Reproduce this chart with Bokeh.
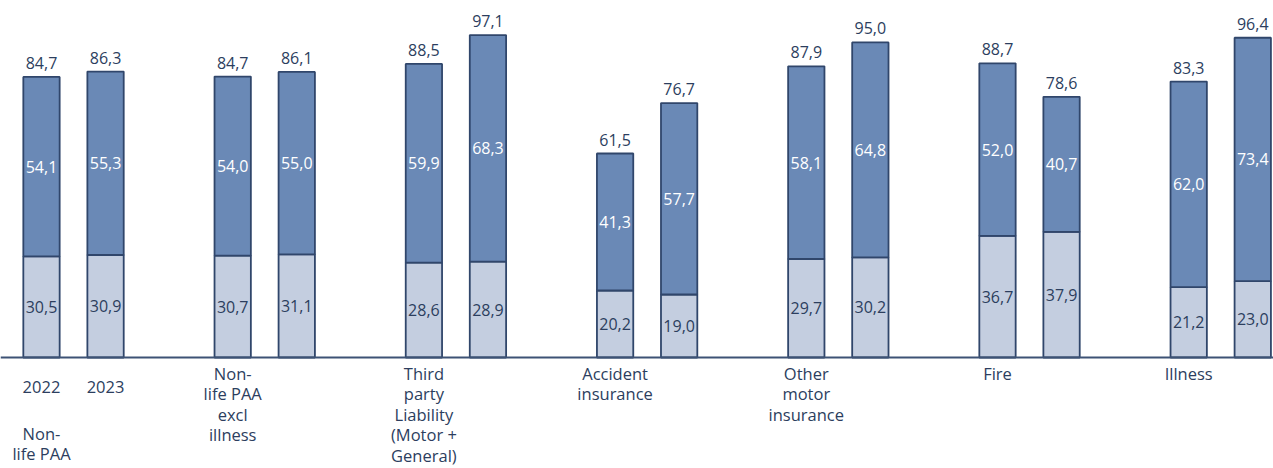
from bokeh.plotting import figure
from bokeh.models import ColumnDataSource, Span, Range1d
from bokeh.embed import file_html
from bokeh.resources import INLINE
from bokeh.core.properties import value

categories = ["Non-\nlife PAA", "Non-\nlife PAA\nexcl\nillness", "Third\nparty\nLiability\n(Motor +\nGeneral)",
              "Accident\ninsurance", "Other\nmotor\ninsurance", "Fire", "Illness"]
years = ["2022", "2023"]
lower_2022 = [30.5, 30.7, 28.6, 20.2, 29.7, 36.7, 21.2]
upper_2022 = [54.1, 54.0, 59.9, 41.3, 58.1, 52.0, 62.0]
total_2022 = [84.7, 84.7, 88.5, 61.5, 87.9, 88.7, 83.3]
lower_2023 = [30.9, 31.1, 28.9, 19.0, 30.2, 37.9, 23.0]
upper_2023 = [55.3, 55.0, 68.3, 57.7, 64.8, 40.7, 73.4]
total_2023 = [86.3, 86.1, 97.1, 76.7, 95.0, 78.6, 96.4]

DARK = "#6a89b6"
LIGHT = "#c4cee0"
EDGE = "#30466b"
TXT = "#2c3e5e"
FONT = value("Open Sans")

def fmt(v):
    return f"{v:.1f}".replace(".", ",")

OFF = 0.335
W = 0.19

xs, lo, up, tot = [], [], [], []
for i in range(len(categories)):
    for j, (l, u, t) in enumerate([(lower_2022[i], upper_2022[i], total_2022[i]),
                                    (lower_2023[i], upper_2023[i], total_2023[i])]):
        xs.append(i + j * OFF)
        lo.append(l)
        up.append(u)
        tot.append(t)

src = ColumnDataSource(dict(
    x=xs, lo=lo, up=up, top=[a + b for a, b in zip(lo, up)], tot=tot,
    lo_mid=[a / 2 for a in lo], up_mid=[a + b / 2 for a, b in zip(lo, up)],
    lo_txt=[fmt(v) for v in lo], up_txt=[fmt(v) for v in up], tot_txt=[fmt(v) for v in tot],
))

p = figure(width=1273, height=468, output_backend="svg", toolbar_location=None,
           x_range=Range1d(-0.2144, 6.4435), y_range=Range1d(-33.46, 107.63),
           min_border=0, outline_line_color=None)
p.axis.visible = False
p.grid.visible = False
p.background_fill_color = "white"
p.border_fill_color = "white"

p.add_layout(Span(location=0, dimension="width", line_color="#3d5275", line_width=2))

p.vbar(x="x", width=W, bottom=0, top="lo", source=src, fill_color=LIGHT, line_color=EDGE, line_width=1.8)
p.vbar(x="x", width=W, bottom="lo", top="top", source=src, fill_color=DARK, line_color=EDGE, line_width=1.8)

p.text(x="x", y="lo_mid", text="lo_txt", source=src, text_align="center", text_baseline="middle",
       text_font=FONT, text_font_size="16px", text_color=TXT)
p.text(x="x", y="up_mid", text="up_txt", source=src, text_align="center", text_baseline="middle",
       text_font=FONT, text_font_size="16px", text_color="white")
p.text(x="x", y="top", text="tot_txt", source=src, text_align="center", text_baseline="bottom",
       y_offset=-8, text_font=FONT, text_font_size="16px", text_color=TXT)

# year labels under the first group
p.text(x=[0, OFF], y=[-8.74, -8.74], text=years, text_align="center", text_baseline="middle",
       text_font=FONT, text_font_size="16.5px", text_color=TXT)

# category labels
cat_x = list(range(len(categories)))
cat_y = [-19.45] + [-1.36] * (len(categories) - 1)
p.text(x=cat_x, y=cat_y, text=categories, text_align="center", text_baseline="top",
       text_font=FONT, text_font_size="16.5px", text_color=TXT, text_line_height=0.89)

open("out.html", "w").write(file_html(p, INLINE))
